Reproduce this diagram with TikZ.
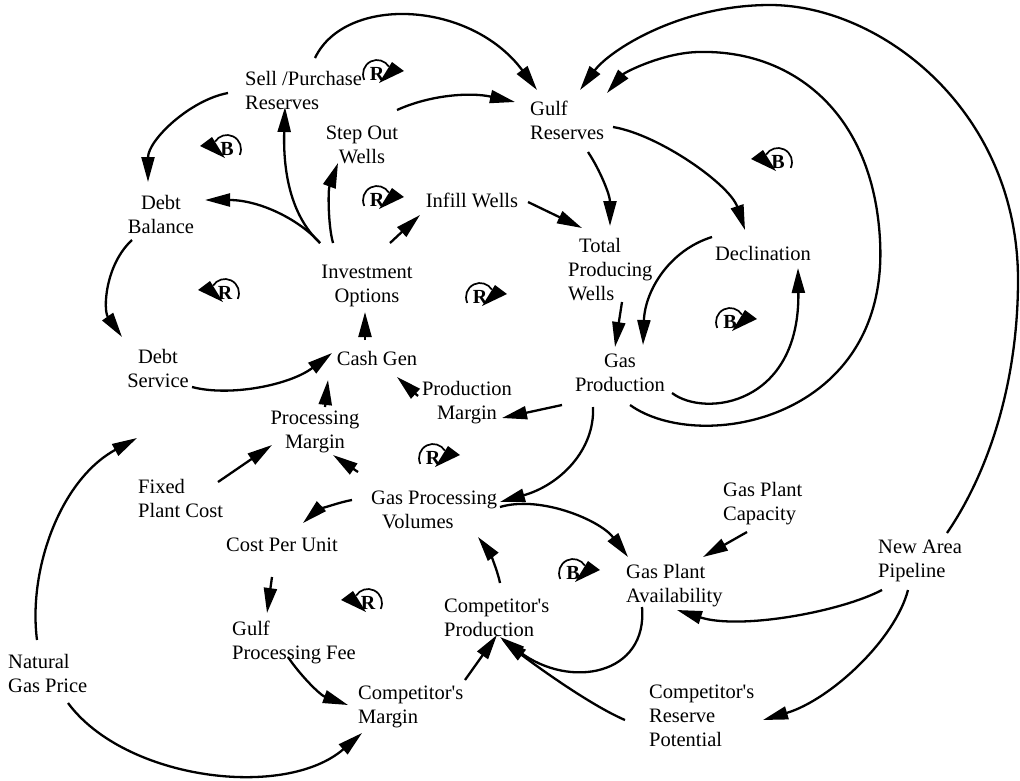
\documentclass[tikz,border=0pt]{standalone}
\usepackage{fontspec}
\setmainfont{Liberation Serif}
\usetikzlibrary{arrows.meta}
\tikzset{
  lbl/.style={font=\fontsize{20.5}{24}\selectfont, inner sep=0pt},
  lblL/.style={lbl, align=left, anchor=west},
  lblC/.style={lbl, align=center},
  conn/.style={line width=2.3pt, -{Triangle[length=25pt,width=13pt]}},
  loopletter/.style={font=\fontsize{20}{24}\selectfont\bfseries, inner sep=0pt},
  loopline/.style={line width=1.7pt}
}
\newcommand{\loopright}[4]{%
  \node[loopletter] (#1) at (#2,#3) {#4};
  \draw[loopline] (#1.center) ++(205:14pt) arc[start angle=205, end angle=32, radius=14pt];
  \fill ([shift={(15,-12)}]#1.center) -- ([shift={(27,-3)}]#1.center) -- ([shift={(2,9)}]#1.center) -- cycle;
}
\newcommand{\loopleft}[4]{%
  \node[loopletter] (#1) at (#2,#3) {#4};
  \draw[loopline] (#1.center) ++(-25:14pt) arc[start angle=-25, end angle=148, radius=14pt];
  \fill ([shift={(-15,-12)}]#1.center) -- ([shift={(-27,-3)}]#1.center) -- ([shift={(-2,9)}]#1.center) -- cycle;
}
\newcommand{\apos}{\textquotesingle}
\begin{document}
\begin{tikzpicture}[x=1pt, y=-1pt]
\path[use as bounding box, fill=white] (0,0) rectangle (1020,780);

% nodes
\node[lblL] (sell) at (245,90) {Sell /Purchase\\Reserves};
\node[lblL] (gulf) at (530,120) {Gulf\\Reserves};
\node[lblC] (step) at (362,145) {Step Out\\Wells};
\node[lblC] (debtb) at (161,214) {Debt\\Balance};
\node[lbl] (infill) at (472,200) {Infill Wells};
\node[lblL] (total) at (568,270) {\hspace*{11pt}Total\\Producing\\Wells};
\node[lbl] (decl) at (763,253) {Declination};
\node[lblC] (invest) at (367,286) {Investment\\Options};
\node[lblC] (debts) at (158,368) {Debt\\Service};
\node[lbl] (cash) at (377,358) {Cash Gen};
\node[lblC] (gasprod) at (620,373) {Gas\\Production};
\node[lblC] (prodm) at (467,403) {Production\\Margin};
\node[lblC] (procm) at (315,432) {Processing\\Margin};
\node[lblL] (fixed) at (138,498) {Fixed\\Plant Cost};
\node[lblL] (gpv) at (371,510) {Gas Processing\\\hspace*{11pt}Volumes};
\node[lblL] (gpc) at (723,504) {Gas Plant\\Capacity};
\node[lbl] (cpu) at (282,545) {Cost Per Unit};
\node[lblL] (nap) at (878,561) {New Area\\Pipeline};
\node[lblL] (gpa) at (626,586) {Gas Plant\\Availability};
\node[lblL] (cprod) at (444,618) {Competitor\apos s\\Production};
\node[lblL] (gpf) at (232,642) {Gulf\\Processing Fee};
\node[lblL] (ngp) at (8,673) {Natural\\Gas Price};
\node[lblL] (cmarg) at (358,707) {Competitor\apos s\\Margin};
\node[lblL] (crp) at (649,716) {Competitor\apos s\\Reserve\\Potential};
\coordinate (ngpend) at (137,438);

% connectors
\draw[conn] ([shift={(70,-32)}]sell.west) .. controls (345,-5) and (470,0) .. ([shift={(7,-30)}]gulf.west);
\draw[conn] ([shift={(35,-35)}]step.center) .. controls (430,95) and (470,92) .. ([shift={(-15,-18)}]gulf.west);
\draw[conn] ([shift={(-17,3)}]sell.west) .. controls (190,100) and (148,140) .. ([shift={(-13,-32)}]debtb.center);
\draw[conn] ([shift={(-47,-43)}]invest.center) .. controls (290,215) and (283,170) .. ([shift={(40,17)}]sell.west);
\draw[conn] ([shift={(-47,-43)}]invest.center) .. controls (300,220) and (260,200) .. ([shift={(44,-14)}]debtb.center);
\draw[conn] ([shift={(-34,-43)}]invest.center) .. controls (328,225) and (328,190) .. ([shift={(-24,18)}]step.center);
\draw[conn] ([shift={(23,-43)}]invest.center) -- ([shift={(-52,15)}]infill.center);
\draw[conn] ([shift={(69,-28)}]nap.west) .. controls (990,470) and (1018,380) .. (1018,280)
   .. controls (1018,110) and (880,5) .. (770,5)
   .. controls (680,5) and (610,50) .. ([shift={(50,-30)}]gulf.west);
\draw[conn] ([shift={(10,32)}]gasprod.center) .. controls (700,455) and (890,420) .. (880,240)
   .. controls (873,110) and (790,50) .. (700,52)
   .. controls (665,52) and (625,72) .. ([shift={(77,-27)}]gulf.west);
\draw[conn] ([shift={(52,20)}]gasprod.center) .. controls (705,418) and (800,405) .. ([shift={(35,15)}]decl.center);
\draw[conn] ([shift={(-51,-16)}]decl.center) .. controls (670,250) and (645,290) .. ([shift={(23,-28)}]gasprod.center);
\draw[conn] ([shift={(83,7)}]gulf.west) .. controls (660,135) and (730,185) .. ([shift={(-18,-23)}]decl.center);
\draw[conn] ([shift={(58,32)}]gulf.west) .. controls (600,170) and (610,195) .. ([shift={(42,-44)}]total.west);
\draw[conn] ([shift={(56,2)}]infill.center) -- ([shift={(14,-42)}]total.west);
\draw[conn] ([shift={(54,32)}]total.west) -- ([shift={(-5,-26)}]gasprod.center);
\draw[conn] ([shift={(-58,32)}]gasprod.center) -- ([shift={(35,15)}]prodm.center);
\draw[conn] ([shift={(-49,-7)}]prodm.center) -- ([shift={(20,19)}]cash.center);
\draw[conn] ([shift={(-27,34)}]gasprod.center) .. controls (595,450) and (560,485) .. ([shift={(129,-8)}]gpv.west);
\draw[conn] ([shift={(-12,-18)}]cash.center) -- ([shift={(-2,26)}]invest.center);
\draw[conn] ([shift={(34,19)}]debts.center) .. controls (230,397) and (290,385) .. ([shift={(-45,-5)}]cash.center);
\draw[conn] ([shift={(-29,26)}]debtb.center) .. controls (105,265) and (103,310) .. ([shift={(-36,-31)}]debts.center);
\draw[conn] ([shift={(10,-25)}]procm.center) -- ([shift={(-49,22)}]cash.center);
\draw[conn] ([shift={(29,-33)}]ngp.west) .. controls (28,570) and (60,480) .. (ngpend);
\draw[conn] ([shift={(60,30)}]ngp.west) .. controls (125,780) and (285,800) .. ([shift={(4,26)}]cmarg.west);
\draw[conn] ([shift={(80,-16)}]fixed.west) -- ([shift={(-43,13)}]procm.center);
\draw[conn] ([shift={(-13,-38)}]gpv.west) -- ([shift={(18,23)}]procm.center);
\draw[conn] ([shift={(-19,-10)}]gpv.west) .. controls (335,503) and (315,512) .. ([shift={(21,-22)}]cpu.center);
\draw[conn] ([shift={(-10,32)}]cpu.center) -- ([shift={(35,-29)}]gpf.west);
\draw[conn] ([shift={(56,15)}]gpf.west) .. controls (300,675) and (320,695) .. ([shift={(-10,-2)}]cmarg.west);
\draw[conn] ([shift={(107,-27)}]cmarg.west) -- ([shift={(53,17)}]cprod.west);
\draw[conn] ([shift={(56,-35)}]cprod.west) .. controls (497,568) and (488,550) .. ([shift={(107,27)}]gpv.west);
\draw[conn] ([shift={(129,-3)}]gpv.west) .. controls (540,495) and (600,520) .. ([shift={(2,-29)}]gpa.west);
\draw[conn] ([shift={(16,21)}]gpa.west) .. controls (648,675) and (570,690) .. ([shift={(56,19)}]cprod.west);
\draw[conn] ([shift={(-24,4)}]crp.west) .. controls (590,705) and (535,665) .. ([shift={(58,22)}]cprod.west);
\draw[conn] ([shift={(24,28)}]gpc.west) -- ([shift={(77,-29)}]gpa.west);
\draw[conn] ([shift={(4,29)}]nap.west) .. controls (840,612) and (740,630) .. ([shift={(51,24)}]gpa.west);
\draw[conn] ([shift={(30,29)}]nap.west) .. controls (895,640) and (830,700) .. ([shift={(114,4)}]crp.west);

% loop markers
\loopright{m1}{377}{74}{R}
\loopleft{m2}{227}{149}{B}
\loopright{m3}{377}{200}{R}
\loopleft{m4}{778}{162}{B}
\loopleft{m5}{225}{293}{R}
\loopright{m6}{480}{297}{R}
\loopright{m7}{730}{322}{B}
\loopright{m8}{433}{458}{R}
\loopright{m9}{573}{573}{B}
\loopleft{m10}{368}{603}{R}
\end{tikzpicture}
\end{document}
